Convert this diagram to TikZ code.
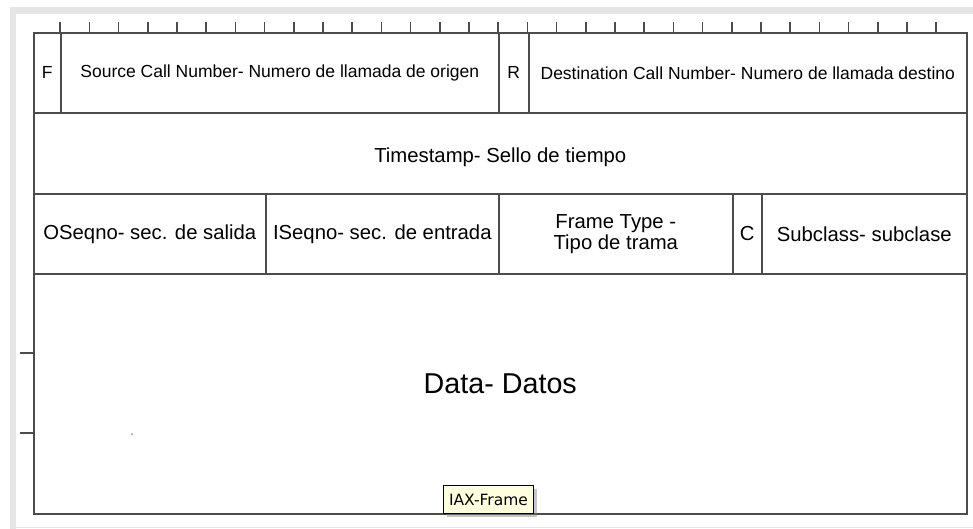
\documentclass[tikz,border=0pt]{standalone}
\usepackage{fontspec}
\setmainfont{Liberation Sans}
\newfontfamily\tipfont{DejaVu Sans}
\usetikzlibrary{shadows}
\newlength{\du}
\setlength{\du}{1pt}
\definecolor{dialinecolor}{rgb}{0.300000, 0.300000, 0.300000}
\definecolor{pagegray}{rgb}{0.900000, 0.900000, 0.900000}
\definecolor{tipfill}{rgb}{1.000000, 1.000000, 0.880000}

\begin{document}
\begin{tikzpicture}[
  field/.style={draw=dialinecolor, line width=1.6\du, anchor=north west, inner sep=0pt,
    align=center, font=\fontsize{20.3}{21}\selectfont},
  hdrfield/.style={field, font=\fontsize{17.5}{18}\selectfont},
  tick/.style={draw=dialinecolor, line width=1.6\du},
  tipbox/.style={draw=black, line width=1\du, fill=tipfill, anchor=north west, inner sep=0pt,
    minimum width=90\du, minimum height=28\du, font=\tipfont\fontsize{15.5}{16}\selectfont,
    drop shadow={shadow xshift=3\du, shadow yshift=-3\du, opacity=0.45}}]
\pgftransformxscale{1.000000}
\pgftransformyscale{-1.000000}
\useasboundingbox (0\du,0\du) rectangle (973\du,529\du);
% page frame
\fill[pagegray] (10\du,7\du) rectangle (973\du,14\du);
\fill[pagegray] (10\du,7\du) rectangle (16\du,529\du);
\draw[pagegray, line width=1\du] (16\du,527.5\du) -- (973\du,527.5\du);
% bit ticks
\foreach \i in {1,...,31}{
  \pgfmathsetmacro\tx{31+\i*29.2}
  \draw[tick] (\tx*\du,22\du) -- (\tx*\du,32\du);
}
\draw[tick] (20\du,353\du) -- (33\du,353\du);
\draw[tick] (20\du,433\du) -- (33\du,433\du);
% row 1
\node[hdrfield, minimum width=27\du, minimum height=80\du] (fbit) at (33\du,32\du) {F};
\node[hdrfield, minimum width=438\du, minimum height=80\du] (srccall) at (60\du,32\du) {Source Call Number- Numero de llamada de origen};
\node[hdrfield, minimum width=30\du, minimum height=80\du] (rbit) at (498\du,32\du) {R};
\node[hdrfield, minimum width=438\du, minimum height=80\du] (dstcall) at (528\du,32\du) {Destination Call Number- Numero de llamada destino};
% row 2
\node[field, minimum width=933\du, minimum height=81\du] (tstamp) at (33\du,112\du) {};
\node (tstamptext) at ([yshift=4\du]tstamp.center) {\fontsize{20.3}{21}\selectfont Timestamp- Sello de tiempo};
% row 3
\node[field, minimum width=232\du, minimum height=80\du] (oseqno) at (33\du,193\du) {OSeqno- sec. de salida};
\node[field, minimum width=233\du, minimum height=80\du] (iseqno) at (265\du,193\du) {ISeqno- sec. de entrada};
\node[field, minimum width=234\du, minimum height=80\du] (ftype) at (498\du,193\du) {Frame Type -\\Tipo de trama};
\node[field, minimum width=29\du, minimum height=80\du] (cbit) at (732\du,193\du) {C};
\node[field, minimum width=205\du, minimum height=80\du] (subclass) at (761\du,193\du) {Subclass- subclase};
% row 4
\node[field, minimum width=933\du, minimum height=240\du] (data) at (33\du,273\du) {};
\node (datatext) at ([yshift=-10\du]data.center) {\fontsize{28.7}{30}\selectfont Data- Datos};
\fill[dialinecolor!60] (132\du,434\du) circle (1\du);
% tooltip
\node[tipbox] (tip) at (443\du,485\du) {IAX-Frame};
\end{tikzpicture}
\end{document}
